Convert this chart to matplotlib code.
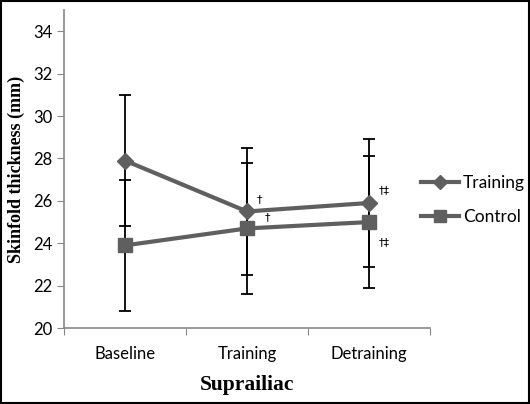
import matplotlib
matplotlib.use('Agg')
import matplotlib.pyplot as plt
from matplotlib.lines import Line2D
import numpy as np

# 数据
phases = ['Baseline', 'Training', 'Detraining']
training_mean = [27.9, 25.5, 25.9]
training_sd = [3.1, 3.0, 3.0]
control_mean = [23.9, 24.7, 25.0]
control_sd = [3.1, 3.1, 3.1]
training_marks = ['', '\u2020', '\u2020\u2021']
control_marks = ['', '\u2020', '\u2020\u2021']
y_ticks = [20, 22, 24, 26, 28, 30, 32, 34]

line_color = '#5f5f5f'
sans = ['Lato', 'DejaVu Sans']
serif = 'Liberation Serif'

fig = plt.figure(figsize=(5.3, 4.04), dpi=100)
ax = fig.add_axes([0.121, 0.188, 0.690, 0.787])
x = np.arange(len(phases))

# 误差棒
ax.errorbar(x, training_mean, yerr=training_sd, fmt='none', ecolor='black',
            elinewidth=1.3, capsize=4, capthick=1.3, zorder=2)
ax.errorbar(x, control_mean, yerr=control_sd, fmt='none', ecolor='black',
            elinewidth=1.3, capsize=4, capthick=1.3, zorder=2)

# 折线
ax.plot(x, training_mean, color=line_color, lw=3, marker='D', ms=8,
        mec=line_color, mfc=line_color, zorder=3)
ax.plot(x, control_mean, color=line_color, lw=3, marker='s', ms=10,
        mec=line_color, mfc=line_color, zorder=3)

# 显著性标记
for i, m in enumerate(training_marks):
    if m:
        ax.annotate(m, (x[i], training_mean[i]), xytext=(7, 7),
                    textcoords='offset points', fontsize=8, family='DejaVu Sans')
for i, m in enumerate(control_marks):
    if m:
        off = (13, 6) if i == 1 else (7, -17)
        ax.annotate(m, (x[i], control_mean[i]), xytext=off,
                    textcoords='offset points', fontsize=8, family='DejaVu Sans')

ax.set_xlim(-0.5, 2.5)
ax.set_ylim(20, 35)
ax.set_yticks(y_ticks)
ax.set_yticklabels([str(t) for t in y_ticks], family=sans, fontsize=12)
ax.set_xticks([-0.5, 0.5, 1.5, 2.5])
ax.set_xticklabels([])
ax.set_xticks(x, minor=True)
ax.set_xticklabels(phases, minor=True, family=sans, fontsize=12)
ax.tick_params(axis='x', which='minor', length=0, pad=13)
ax.tick_params(axis='x', which='major', length=5, color='#888888')
ax.tick_params(axis='y', length=5, color='#888888')

for s in ['top', 'right']:
    ax.spines[s].set_visible(False)
for s in ['left', 'bottom']:
    ax.spines[s].set_color('#888888')
    ax.spines[s].set_linewidth(1.2)

ax.set_ylabel('Skinfold thickness (mm)', family=serif, fontweight='bold',
              fontsize=13, labelpad=6)
ax.set_xlabel('Suprailiac', family=serif, fontweight='bold', fontsize=15.5,
              labelpad=9)

handles = [
    Line2D([], [], color=line_color, lw=3, marker='D', ms=7),
    Line2D([], [], color=line_color, lw=3, marker='s', ms=9),
]
leg = fig.legend(handles, ['Training', 'Control'], loc='center left',
                 bbox_to_anchor=(0.765, 0.505), frameon=False,
                 prop={'family': sans, 'size': 12.5}, handlelength=2.2,
                 handletextpad=0.2, labelspacing=1.0)

# 外框
fig.patches.append(plt.Rectangle((0.002, 0.002), 0.996, 0.996, transform=fig.transFigure,
                                 fill=False, edgecolor='black', lw=1.5))

fig.savefig('out.png', dpi=100)
